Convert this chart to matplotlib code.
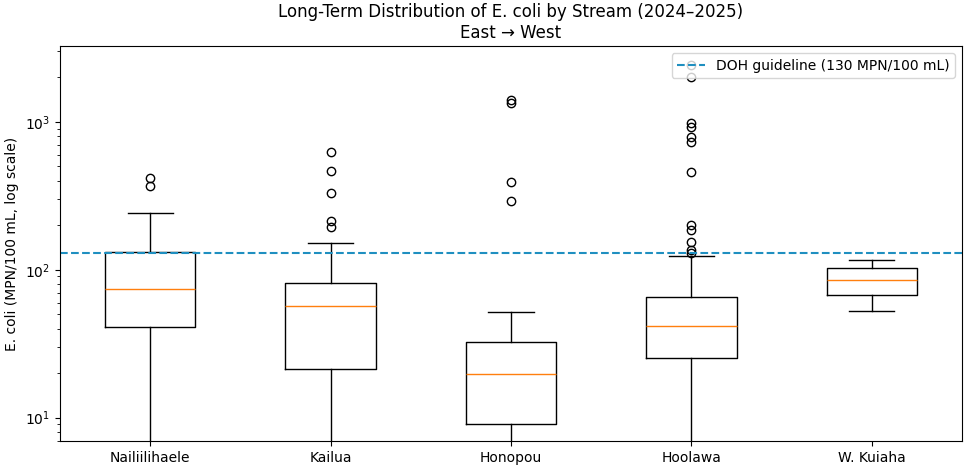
import matplotlib
matplotlib.use("Agg")
import matplotlib.pyplot as plt

streams = ["Nailiilihaele", "Kailua", "Honopou", "Hoolawa", "W. Kuiaha"]
q1 = [41, 21.3, 9.05, 25.2, 68]
med = [74, 57, 19.6, 41.7, 85]
q3 = [131, 81, 32.3, 65, 102]
whis_lo = [5, 5, 5, 5, 53]
whis_hi = [240, 152, 52, 124, 116]
fliers = [
    [414, 370],
    [627, 464, 328, 212, 194],
    [1402, 1331, 389, 291],
    [2420, 2014, 975, 916, 792, 733, 455, 200, 187, 154, 135, 130],
    [],
]
guideline = 130

stats = []
for i, name in enumerate(streams):
    stats.append(dict(label=name, q1=q1[i], med=med[i], q3=q3[i],
                      whislo=whis_lo[i], whishi=whis_hi[i], fliers=fliers[i]))

fig = plt.figure(figsize=(9.65, 4.71), dpi=100)
ax = fig.add_axes([0.062, 0.064, 0.935, 0.838])
ax.bxp(stats, showfliers=True)
ax.set_yscale("log")
ax.axhline(guideline, linestyle="--", color="#1f8fc0", linewidth=1.5,
           label="DOH guideline (130 MPN/100 mL)")
ax.set_ylim(6.97, 3245)
ax.set_xlim(0.5, 5.5)
ax.set_ylabel("E. coli (MPN/100 mL, log scale)")
ax.set_title("Long-Term Distribution of E. coli by Stream (2024\u20132025)\nEast \u2192 West")
ax.legend(loc="upper right")
fig.savefig("out.png", dpi=100)
